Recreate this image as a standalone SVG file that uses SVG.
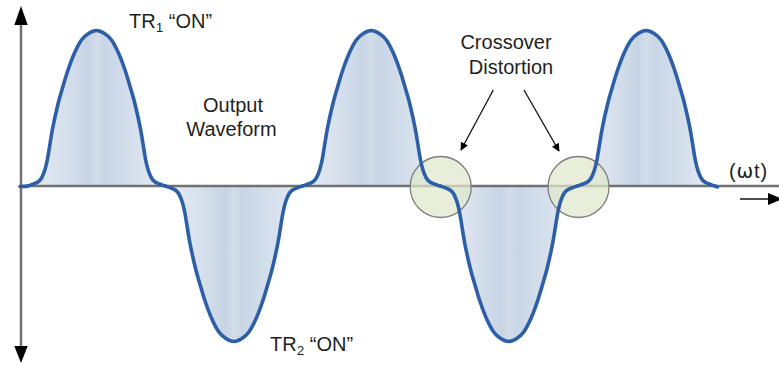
<svg xmlns="http://www.w3.org/2000/svg" xmlns:xlink="http://www.w3.org/1999/xlink" width="779" height="365" viewBox="0 0 779 365">
<style>
.axis{stroke:#717171;stroke-width:2.5;fill:none}
.head{fill:#000}
.wave{fill:none;stroke:#2d5fa9;stroke-width:3.6;stroke-linecap:round;stroke-linejoin:round}
.area{fill:url(#lobeFill);stroke:none}
.ring{fill:#dfe8cc;fill-opacity:0.72;stroke:#7d7d7d;stroke-width:1.3}
.lbl{font-family:"Liberation Sans",Arial,sans-serif;font-size:20px;fill:#231f20}
.ptr{stroke:#111;stroke-width:1.3;fill:none}
</style>
<defs>
<linearGradient id="lobeFill" x1="0" y1="0" x2="1" y2="0">
<stop offset="0" stop-color="#e7edf5"/>
<stop offset="0.3" stop-color="#d4deeb"/>
<stop offset="0.44" stop-color="#c7d4e5"/>
<stop offset="0.5" stop-color="#d3ddea"/>
<stop offset="0.56" stop-color="#c9d6e6"/>
<stop offset="0.8" stop-color="#d7e1ed"/>
<stop offset="1" stop-color="#e7edf5"/>
</linearGradient>
<path id="lobe" d="M-68.7 0 C-66.8 -0.667 -64.78 -1.25 -63 -2 C-61.22 -2.75 -59.33 -3.5 -58 -4.5 C-56.67 -5.5 -56 -6.25 -55 -8 C-54 -9.75 -53 -11.83 -52 -15 C-51 -18.17 -50.33 -20 -49 -27 C-47.67 -34 -45.75 -47.83 -44 -57 C-42.25 -66.17 -40.17 -75.17 -38.5 -82 C-36.83 -88.83 -35.67 -92.33 -34 -98 C-32.33 -103.67 -30.5 -110.17 -28.5 -116 C-26.5 -121.83 -24.25 -128 -22 -133 C-19.75 -138 -17.33 -142.75 -15 -146 C-12.67 -149.25 -10.5 -150.92 -8 -152.5 C-5.5 -154.08 -2.667 -155.5 0 -155.5 C2.667 -155.5 5.5 -154.08 8 -152.5 C10.5 -150.92 12.67 -149.25 15 -146 C17.33 -142.75 19.75 -138 22 -133 C24.25 -128 26.5 -121.83 28.5 -116 C30.5 -110.17 32.330 -103.67 34 -98 C35.67 -92.33 36.83 -88.83 38.5 -82 C40.17 -75.17 42.25 -66.17 44 -57 C45.75 -47.83 47.67 -34 49 -27 C50.33 -20 51 -18.17 52 -15 C53 -11.83 54 -9.75 55 -8 C56 -6.25 56.67 -5.5 58 -4.5 C59.33 -3.5 61.22 -2.75 63 -2 C64.78 -1.25 66.8 -0.667 68.7 0"/>
<marker id="arr" viewBox="0 0 10 10" refX="9" refY="5" markerWidth="9" markerHeight="8" markerUnits="userSpaceOnUse" orient="auto">
<path d="M0 0 L10 5 L0 10 Z" fill="#000"/>
</marker>
</defs>

<g id="fills">
<use xlink:href="#lobe" class="area" transform="translate(96.5,186)"/>
<use xlink:href="#lobe" class="area" transform="translate(233.9,186) scale(1,-1)"/>
<use xlink:href="#lobe" class="area" transform="translate(371.3,186)"/>
<use xlink:href="#lobe" class="area" transform="translate(508.7,186) scale(1,-1)"/>
<use xlink:href="#lobe" class="area" transform="translate(646.1,186)"/>
</g>

<g id="axes">
<line class="axis" x1="21" y1="22" x2="21" y2="348"/>
<polygon class="head" points="21,6 14.3,25 27.7,25"/>
<polygon class="head" points="21,363 14.3,346 27.7,346"/>
<line class="axis" x1="21" y1="186" x2="779" y2="186"/>
</g>

<g id="crossover-1"><circle class="ring" cx="440.7" cy="187" r="30.5"/></g>
<g id="crossover-2"><circle class="ring" cx="578.5" cy="187" r="30.5"/></g>

<g id="waveform">
<path class="wave" d="M20 186.5 C23 186.5 25.9 186.7 27.8 186"/>
<use xlink:href="#lobe" class="wave" transform="translate(96.5,186)"/>
<use xlink:href="#lobe" class="wave" transform="translate(233.9,186) scale(1,-1)"/>
<use xlink:href="#lobe" class="wave" transform="translate(371.3,186)"/>
<use xlink:href="#lobe" class="wave" transform="translate(508.7,186) scale(1,-1)"/>
<use xlink:href="#lobe" class="wave" transform="translate(646.1,186)"/>
<path class="wave" d="M714.8 186 C716 186.5 716.8 187 717.5 187"/>
</g>

<g id="wt-axis">
<text class="lbl" x="729" y="178" font-size="21" letter-spacing="0.8">(<tspan font-family="DejaVu Sans, sans-serif">ω</tspan>t)</text>
<line x1="740" y1="199" x2="770" y2="199" stroke="#111" stroke-width="1.5"/>
<polygon class="head" points="768,193 783,199 768,205"/>
</g>

<g id="label-tr1"><text class="lbl" x="129" y="28">TR<tspan font-size="13.5" dy="4">1</tspan><tspan dy="-4"> “ON”</tspan></text></g>
<g id="label-output"><text class="lbl" text-anchor="middle" x="233" y="111.5">Output</text><text class="lbl" text-anchor="middle" x="231.5" y="135.5">Waveform</text></g>
<g id="label-crossover"><text class="lbl" text-anchor="middle" x="506" y="49">Crossover</text><text class="lbl" text-anchor="middle" x="511" y="73.5">Distortion</text></g>
<g id="label-tr2"><text class="lbl" x="270" y="351">TR<tspan font-size="13.5" dy="4">2</tspan><tspan dy="-4"> “ON”</tspan></text></g>

<g id="connectors">
<line class="ptr" x1="493.3" y1="90" x2="461" y2="150" marker-end="url(#arr)"/>
<line class="ptr" x1="524" y1="90" x2="559" y2="151" marker-end="url(#arr)"/>
</g>
</svg>
